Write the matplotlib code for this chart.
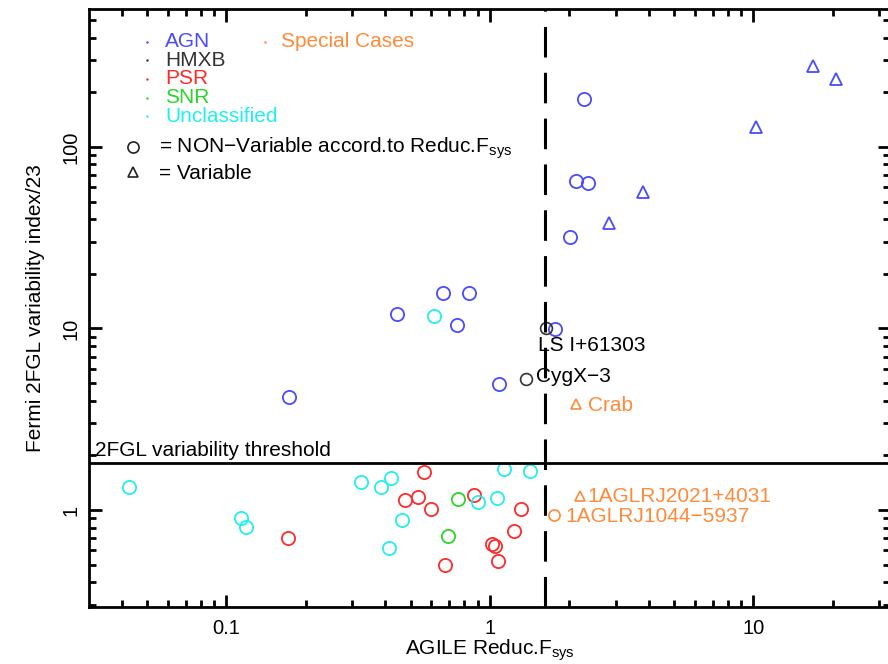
import matplotlib
matplotlib.use("Agg")
import matplotlib.pyplot as plt
from matplotlib.ticker import LogLocator, NullFormatter, FixedLocator, FixedFormatter

plt.rcParams['font.family'] = ['Liberation Sans', 'DejaVu Sans']
plt.rcParams['mathtext.fontset'] = 'custom'
plt.rcParams['mathtext.rm'] = 'Liberation Sans'
plt.rcParams['mathtext.it'] = 'Liberation Sans'

# ---- data ----
agn_circ_x = [2.27, 2.12, 2.35, 2.01, 1.76, 0.665, 0.830, 0.445, 0.747, 1.085, 0.173]
agn_circ_y = [184, 65, 63, 31.9, 9.9, 15.6, 15.6, 12.07, 10.45, 4.93, 4.18]
agn_tri_x = [16.8, 20.6, 10.2, 3.82, 2.84]
agn_tri_y = [280, 236, 129, 56.3, 38.0]
hmxb_x = [1.64, 1.37]
hmxb_y = [10.0, 5.27]
hmxb_names = ["LS I+61303", "CygX\u22123"]
psr_x = [0.87, 0.563, 0.476, 0.534, 0.596, 0.171, 0.675, 1.02, 1.044, 1.07, 1.23, 1.31]
psr_y = [1.21, 1.626, 1.135, 1.184, 1.01, 0.698, 0.497, 0.65, 0.634, 0.526, 0.769, 1.01]
snr_x = [0.758, 0.695]
snr_y = [1.15, 0.722]
unc_x = [0.613, 0.0428, 0.114, 0.119, 0.324, 0.386, 0.420, 0.462, 0.414, 0.903, 1.06, 1.13, 1.42]
unc_y = [11.76, 1.33, 0.907, 0.803, 1.42, 1.345, 1.494, 0.881, 0.615, 1.11, 1.16, 1.675, 1.647]
special_names = ["Crab", "1AGLRJ2021+4031", "1AGLRJ1044\u22125937"]
special_x = [2.12, 2.20, 1.75]
special_y = [3.82, 1.20, 0.94]
special_marker = ['^', '^', 'o']
threshold = 1.81
fsys_cut = 1.62
legend_classes = ["AGN", "HMXB", "PSR", "SNR", "Unclassified"]

C_AGN = '#4a4aff'
C_HMXB = '#333333'
C_PSR = '#ff2a2a'
C_SNR = '#2ad62a'
C_UNC = '#22eeee'
C_SPEC = '#ff8a3a'
legend_colors = [C_AGN, C_HMXB, C_PSR, C_SNR, C_UNC]

FS = 15

fig = plt.figure(figsize=(8.88, 6.64), dpi=100)
ax = fig.add_axes([89/888, 57/664, 801/888, 598/664])
ax.set_xscale('log')
ax.set_yscale('log')
ax.set_xlim(0.0301, 33.0)
ax.set_ylim(0.292, 575)

ms = 9.5
mew = 1.3
ax.plot(agn_circ_x, agn_circ_y, 'o', mfc='none', mec=C_AGN, ms=ms, mew=mew)
ax.plot(agn_tri_x, agn_tri_y, '^', mfc='none', mec=C_AGN, ms=8.5, mew=mew)
ax.plot(psr_x, psr_y, 'o', mfc='none', mec=C_PSR, ms=ms, mew=mew)
ax.plot(snr_x, snr_y, 'o', mfc='none', mec=C_SNR, ms=ms, mew=mew)
ax.plot(unc_x, unc_y, 'o', mfc='none', mec=C_UNC, ms=ms, mew=mew)
ax.plot(hmxb_x, hmxb_y, 'o', mfc='none', mec=C_HMXB, ms=8.5, mew=1.2)
for x, y, n in zip(hmxb_x, hmxb_y, hmxb_names):
    if n.startswith('LS'):
        ax.annotate(n, (x, y), xytext=(-6, -12), textcoords='offset points',
                    fontsize=FS, color='black', va='center', ha='left')
    else:
        ax.annotate(n, (x, y), xytext=(7, 2), textcoords='offset points',
                    fontsize=FS, color='black', va='center', ha='left')
label_dx = {"Crab": 9, "1AGLRJ2021+4031": 5.5, "1AGLRJ1044\u22125937": 8}
for x, y, n, m in zip(special_x, special_y, special_names, special_marker):
    ax.plot([x], [y], m, mfc='none', mec=C_SPEC, ms=8 if m == 'o' else 7.5, mew=1.2)
    ax.annotate(n, (x, y), xytext=(label_dx[n], -1), textcoords='offset points',
                fontsize=FS, color=C_SPEC, va='center', ha='left')

ax.axhline(threshold, color='black', lw=2)
ax.axvline(fsys_cut, color='black', lw=2.2, ls=(0, (10, 5)))
ax.text(0.0318, threshold * 1.04, "2FGL variability threshold", fontsize=FS,
        color='black', ha='left', va='bottom')

# legend-like text block
ly0 = 0.945
dy = 0.031
for i, (name, c) in enumerate(zip(legend_classes, legend_colors)):
    ax.text(0.095, ly0 - i * dy, name, transform=ax.transAxes, color=c,
            fontsize=FS, ha='left', va='center')
    ax.plot([0.072], [ly0 - i * dy], '.', transform=ax.transAxes, color=c, ms=1.5)
ax.text(0.240, ly0, "Special Cases", transform=ax.transAxes, color=C_SPEC,
        fontsize=FS, ha='left', va='center')
ax.plot([0.220], [ly0], '.', transform=ax.transAxes, color=C_SPEC, ms=1.5)
ax.plot([0.055], [0.770], 'o', transform=ax.transAxes, mfc='none', mec='#222222', ms=8, mew=1.2)
ax.text(0.088, 0.759, "= NON\u2212Variable accord.to Reduc.F$_{\\mathrm{sys}}$",
        transform=ax.transAxes, fontsize=FS, ha='left', va='baseline')
ax.plot([0.055], [0.727], '^', transform=ax.transAxes, mfc='none', mec='#222222', ms=7.5, mew=1.2)
ax.text(0.088, 0.716, "= Variable", transform=ax.transAxes, fontsize=FS,
        ha='left', va='baseline')

# axes styling
for s in ax.spines.values():
    s.set_linewidth(2)
ax.tick_params(which='both', direction='in', top=True, right=True, width=2)
ax.tick_params(which='major', length=9, labelsize=14.5)
ax.tick_params(which='minor', length=5)
ax.xaxis.set_major_locator(FixedLocator([0.1, 1, 10]))
ax.xaxis.set_major_formatter(FixedFormatter(['0.1', '1', '10']))
ax.xaxis.set_minor_locator(LogLocator(base=10, subs=range(2, 10), numticks=20))
ax.xaxis.set_minor_formatter(NullFormatter())
ax.yaxis.set_major_locator(FixedLocator([1, 10, 100]))
ax.yaxis.set_major_formatter(FixedFormatter(['1', '10', '100']))
ax.yaxis.set_minor_locator(LogLocator(base=10, subs=range(2, 10), numticks=20))
ax.yaxis.set_minor_formatter(NullFormatter())
for lbl in ax.get_yticklabels():
    lbl.set_rotation(90)
    lbl.set_va('center')
ax.tick_params(axis='x', pad=9)
ax.tick_params(axis='y', pad=6)

ax.set_xlabel("AGILE Reduc.F$_{\\mathrm{sys}}$", fontsize=FS, labelpad=-1)
ax.set_ylabel("Fermi 2FGL variability index/23", fontsize=FS, labelpad=12)

fig.savefig("out.png", dpi=100)
